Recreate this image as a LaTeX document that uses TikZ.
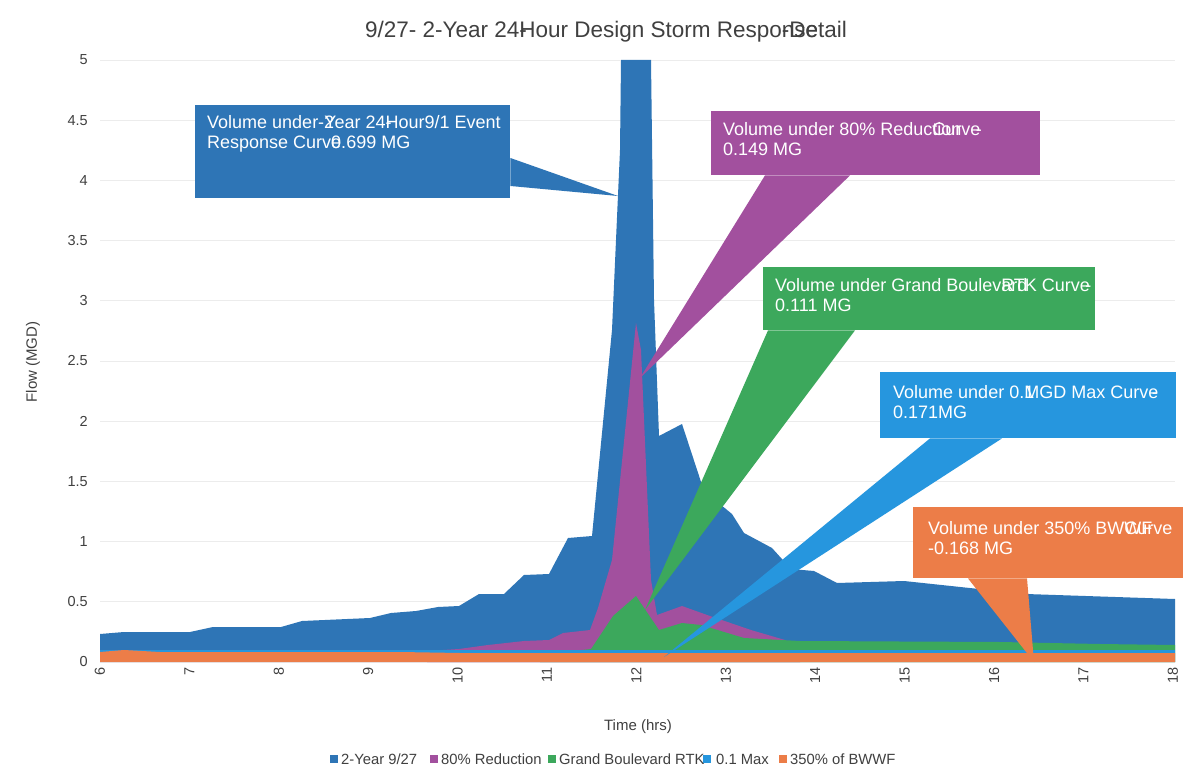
\documentclass[tikz,border=0pt]{standalone}
\usepackage{fontspec}
\setmainfont{Liberation Sans}
\definecolor{cblue}{RGB}{46,117,182}
\definecolor{cpurple}{RGB}{162,80,158}
\definecolor{cgreen}{RGB}{60,168,92}
\definecolor{clblue}{RGB}{38,150,222}
\definecolor{corange}{RGB}{236,125,72}
\definecolor{cgrid}{RGB}{236,236,236}
\definecolor{ctext}{RGB}{64,64,64}
\begin{document}
\begin{tikzpicture}[x=1pt,y=-1pt,
  gridline/.style={draw=cgrid,line width=0.8pt},
  ticklbl/.style={font=\fontsize{14.5}{16}\selectfont,text=ctext,inner sep=1pt},
  axtitle/.style={font=\fontsize{15}{17}\selectfont,text=ctext,inner sep=0pt},
  calbox/.style={fill=#1,draw=none,anchor=north west,inner sep=0pt},
  caltext/.style={anchor=north west,text=white,align=left,inner sep=0pt,
     font=\fontsize{18}{20.5}\selectfont},
  legsq/.style={fill=#1,draw=none,minimum size=8pt,inner sep=0pt},
  legtx/.style={anchor=west,inner sep=0pt,text=ctext,font=\fontsize{14.8}{16}\selectfont}]
\useasboundingbox[fill=white] (0,0) rectangle (1188,775);

% title
\node[font=\fontsize{22.5}{25}\selectfont,text=ctext,inner sep=0pt] (title) at (606,32)
  {9/27- 2-Year 24\rlap{-}Hour Design Storm Respo\rlap{nse}-Detail};

% grid lines
\foreach \v in {1,...,10}
  \draw[gridline] (100,{662-60.2*\v}) -- (1175,{662-60.2*\v});

% y tick labels
\foreach \i/\s in {0/0,1/0.5,2/1,3/1.5,4/2,5/2.5,6/3,7/3.5,8/4,9/4.5,10/5}
  \node[ticklbl,anchor=east] (yl\i) at (89,{662-60.2*\i}) {\s};

% x tick labels
\foreach \t in {6,...,18}
  \node[ticklbl,rotate=90,anchor=east] (xt\t) at ({100+89.4*(\t-6)},666) {\t};

% axis titles
\node[axtitle,rotate=90] (ytitle) at (33,362) {Flow (MGD)};
\node[axtitle] (xtitle) at (638,727) {Time (hrs)};

% series: 2-Year 9/27
\fill[cblue] (100,662) -- (100,634) -- (124,632) -- (190,632) -- (213,627) -- (281,627)
  -- (302,621) -- (370,618) -- (391,613) -- (416,611) -- (438,607) -- (459,606)
  -- (479,594) -- (504,594) -- (524,575) -- (549,574) -- (568,538) -- (592,536)
  -- (612,330) -- (620,150) -- (621,60) -- (651,60) -- (654,300) -- (659,436)
  -- (682,424) -- (704,491) -- (732,514) -- (744,533) -- (772,548) -- (791,569)
  -- (814,571) -- (837,583) -- (904,581) -- (1026,594) -- (1175,599) -- (1175,662) -- cycle;
% 80% Reduction
\fill[cpurple] (427,662) -- (427,651) -- (459,649) -- (488,645) -- (524,641) -- (549,640)
  -- (563,633) -- (590,630) -- (598,608) -- (612,560) -- (636,323) -- (641,350)
  -- (651,580) -- (657,615) -- (682,606) -- (710,616) -- (751,630) -- (785,640)
  -- (800,650) -- (800,662) -- cycle;
% Grand Boulevard RTK
\fill[cgreen] (540,662) -- (540,657) -- (563,652) -- (591,649) -- (613,616) -- (636,596)
  -- (659,630) -- (682,623) -- (701,625) -- (744,638) -- (800,641) -- (1000,642)
  -- (1100,644) -- (1175,645) -- (1175,662) -- cycle;
% 0.1 Max
\fill[clblue] (100,662) -- (100,650) -- (1175,650) -- (1175,662) -- cycle;
% 350% of BWWF
\fill[corange] (100,662) -- (100,652) -- (124,650) -- (160,652) -- (400,652) -- (460,653)
  -- (700,653) -- (1175,653) -- (1175,662) -- cycle;

% callout: 2-Year
\coordinate (btip) at (618,196);
\node[calbox=cblue,minimum width=315pt,minimum height=93pt] (bbox) at (195,105) {};
\coordinate (bb1) at ([yshift=-53pt]bbox.north east);
\coordinate (bb2) at ([yshift=-81pt]bbox.north east);
\fill[cblue] (bb1) -- (btip) -- (bb2) -- cycle;
\node[caltext] (btxt) at (207,115)
  {Volume under-\rlap{2}Year 24\rlap{-}Hour9/1 Event\\Response Curv\rlap{e}0.699 MG};

% callout: 80% Reduction
\coordinate (ptip) at (640,378);
\node[calbox=cpurple,minimum width=329pt,minimum height=64pt] (pbox) at (711,111) {};
\coordinate (pb1) at ([xshift=54pt]pbox.south west);
\coordinate (pb2) at ([xshift=139pt]pbox.south west);
\fill[cpurple] (pb1) -- (ptip) -- (pb2) -- cycle;
\node[caltext] (ptxt) at (723,122)
  {Volume under 80\% Reduc\rlap{tion}Curve\kern-0.25em-\\0.149 MG};

% callout: Grand Boulevard RTK
\coordinate (gtip) at (645,610);
\node[calbox=cgreen,minimum width=332pt,minimum height=63pt] (gbox) at (763,267) {};
\coordinate (gb1) at ([xshift=5pt]gbox.south west);
\coordinate (gb2) at ([xshift=92pt]gbox.south west);
\fill[cgreen] (gb1) -- (gtip) -- (gb2) -- cycle;
\node[caltext] (gtxt) at (775,278)
  {Volume under Grand Boulev\rlap{ard}RTK Curve\kern-0.25em-\\0.111 MG};

% callout: 0.1 Max
\coordinate (ltip) at (664,657);
\node[calbox=clblue,minimum width=296pt,minimum height=66pt] (lbox) at (880,372) {};
\coordinate (lb1) at ([xshift=50pt]lbox.south west);
\coordinate (lb2) at ([xshift=122pt]lbox.south west);
\fill[clblue] (lb1) -- (ltip) -- (lb2) -- cycle;
\node[caltext] (ltxt) at (893,385)
  {Volume under 0.\rlap{1}MGD Max Curv\rlap{\kern0.2em-}e\\0.171MG};

% callout: 350% of BWWF
\coordinate (otip) at (1034,662);
\node[calbox=corange,minimum width=270pt,minimum height=71pt] (obox) at (913,507) {};
\coordinate (ob1) at ([xshift=55pt]obox.south west);
\coordinate (ob2) at ([xshift=114pt]obox.south west);
\fill[corange] (ob1) -- (otip) -- (ob2) -- cycle;
\node[caltext] (otxt) at (928,521)
  {Volume under 350\% BW\rlap{WF}Curve\\-0.168 MG};

% legend
\node[legsq=cblue] (lsq1) at (334,759) {};
\node[legtx] (lt1) at (341,759) {2-Year 9/27};
\node[legsq=cpurple] (lsq2) at (434,759) {};
\node[legtx] (lt2) at (441,759) {80\% Reduction};
\node[legsq=cgreen] (lsq3) at (552,759) {};
\node[legtx] (lt3) at (559,759) {Grand Boulevard RTK};
\node[legsq=clblue] (lsq4) at (707,759) {};
\node[legtx] (lt4) at (716,759) {0.1 Max};
\node[legsq=corange] (lsq5) at (783,759) {};
\node[legtx] (lt5) at (790,759) {350\% of BWWF};
\end{tikzpicture}
\end{document}
